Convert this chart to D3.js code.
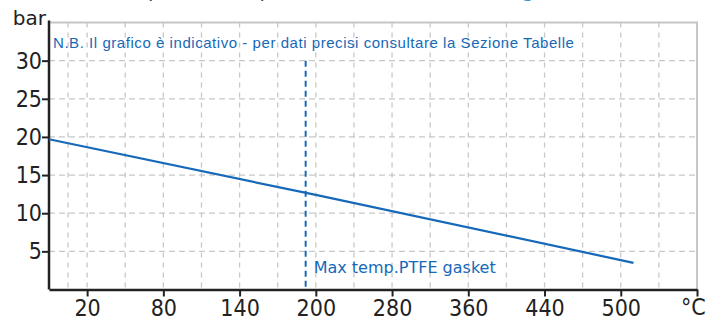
<!DOCTYPE html>
<html>
<head>
<meta charset="utf-8">
<script src="https://cdn.jsdelivr.net/npm/d3@7"></script>
<style>
  body { margin: 0; background: #fff; }
  svg { display: block; }
</style>
</head>
<body>
<svg id="chart" width="707" height="318"></svg>
<script>
// x axis labels (°C) - spacing on the original is even, not linear in temperature
var temp_ticks = [20, 80, 140, 200, 280, 360, 440, 500];
var temp_min = -10, temp_max = 560;
var pressure_ticks = [5, 10, 15, 20, 25, 30];
var pressure_max = 35;

// rating line (temperature °C, pressure bar)
var line_temp = [-10, 200, 510];
var line_bar = [19.7, 12.4, 3.5];

// max temperature of the PTFE gasket
var ptfe_temp = [192];
var ptfe_label = "Max temp.PTFE gasket";
var note_text = "N.B. Il grafico è indicativo - per dati precisi consultare la Sezione Tabelle";

var left = 49, right = 697, top_y = 22.5, bottom = 289.5;
var blue = "#1669b8";
var tick_font = "DejaVu Sans Condensed, DejaVu Sans";

var svg = d3.select("#chart");

// piecewise scale: each label sits on every second grid line
var knots = [temp_min].concat(temp_ticks, [temp_max]);
var slots = [0].concat(temp_ticks.map((d, i) => 1 + i * 2), [temp_ticks.length * 2 + 1]);
var slot_w = (right - left) / slots[slots.length - 1];
var x = d3.scaleLinear().domain(knots).range(slots.map(s => left + s * slot_w));
var y = d3.scaleLinear().domain([0, pressure_max]).range([bottom, top_y]);

// cut text from the page above
svg.append("text")
    .attr("x", 455).attr("y", -3)
    .attr("text-anchor", "end")
    .attr("font-family", "DejaVu Sans")
    .attr("font-size", "20px")
    .attr("fill", "#444")
    .text("ssione, temperatura e pressione nominale");
svg.append("text")
    .attr("x", 470).attr("y", -3)
    .attr("font-family", "DejaVu Sans")
    .attr("font-size", "20px")
    .attr("fill", "#3d8fd6")
    .text("Rating");

// grid lines
var grid_x = [];
d3.pairs(knots).forEach(p => {
    if (p[0] !== temp_min) grid_x.push(p[0]);
    grid_x.push((p[0] + p[1]) / 2);
});
svg.append("g").selectAll("line.vgrid")
    .data(grid_x)
    .enter()
    .append("line")
    .attr("class", "vgrid")
    .attr("x1", d => x(d)).attr("x2", d => x(d))
    .attr("y1", top_y).attr("y2", bottom)
    .style("stroke", "#c8c8c8")
    .style("stroke-width", 1.3)
    .style("stroke-dasharray", "5,5");

svg.append("g").selectAll("line.hgrid")
    .data(pressure_ticks)
    .enter()
    .append("line")
    .attr("class", "hgrid")
    .attr("x1", left).attr("x2", right)
    .attr("y1", d => y(d)).attr("y2", d => y(d))
    .style("stroke", "#c8c8c8")
    .style("stroke-width", 1.3)
    .style("stroke-dasharray", "6,4");

// top and right frame
svg.append("path")
    .attr("d", "M" + left + "," + top_y + "H" + right + "V" + bottom)
    .style("fill", "none")
    .style("stroke", "#c4c6c8")
    .style("stroke-width", 2);

// axes
var xAxis = d3.axisBottom(x)
    .tickValues(temp_ticks.concat([temp_max]))
    .tickSize(7)
    .tickSizeOuter(0)
    .tickFormat(d => d === temp_max ? "" : d);
var gx = svg.append("g")
    .attr("transform", "translate(0," + bottom + ")")
    .call(xAxis);
gx.select(".domain").style("stroke", "#222").style("stroke-width", 2.5);
gx.selectAll(".tick line").style("stroke", "#222").style("stroke-width", 2);
gx.selectAll(".tick text")
    .attr("y", 26)
    .attr("dy", "0")
    .attr("font-family", tick_font)
    .attr("font-size", "23px")
    .attr("fill", "#222");

var yAxis = d3.axisLeft(y)
    .tickValues(pressure_ticks)
    .tickSize(7)
    .tickSizeOuter(0);
var gy = svg.append("g")
    .attr("transform", "translate(" + left + ",0)")
    .call(yAxis);
gy.select(".domain").attr("d", "M0," + (top_y - 2) + "V" + bottom)
    .style("stroke", "#222").style("stroke-width", 2.5);
gy.selectAll(".tick line").style("stroke", "#222").style("stroke-width", 2);
gy.selectAll(".tick text")
    .attr("x", -7)
    .attr("font-family", tick_font)
    .attr("font-size", "23px")
    .attr("fill", "#222");

// units
svg.append("text")
    .attr("x", 46).attr("y", 25)
    .attr("text-anchor", "end")
    .attr("font-family", "DejaVu Sans")
    .attr("font-size", "20px")
    .attr("fill", "#222")
    .text("bar");
svg.append("text")
    .attr("x", 681).attr("y", 315)
    .attr("font-family", tick_font)
    .attr("font-size", "23px")
    .attr("fill", "#222")
    .text("°C");

// PTFE limit
svg.selectAll("line.ptfe")
    .data(ptfe_temp)
    .enter()
    .append("line")
    .attr("class", "ptfe")
    .attr("x1", d => x(d)).attr("x2", d => x(d))
    .attr("y1", y(30)).attr("y2", bottom)
    .style("stroke", blue)
    .style("stroke-width", 2)
    .style("stroke-dasharray", "6,4");
svg.selectAll("text.ptfe")
    .data(ptfe_temp)
    .enter()
    .append("text")
    .attr("class", "ptfe")
    .attr("x", d => x(d) + 8)
    .attr("y", 273)
    .attr("font-family", "DejaVu Sans")
    .attr("font-size", "16px")
    .attr("fill", blue)
    .text(ptfe_label);

// note
svg.append("text")
    .attr("x", 53).attr("y", 48)
    .attr("font-family", "Liberation Sans, Arial")
    .attr("font-size", "15px")
    .attr("letter-spacing", "0.55px")
    .attr("fill", blue)
    .text(note_text);

// rating line
var pts = line_temp.map((t, i) => [t, line_bar[i]]);
svg.append("path")
    .datum(pts)
    .attr("d", d3.line().x(d => x(d[0])).y(d => y(d[1])))
    .style("fill", "none")
    .style("stroke", blue)
    .style("stroke-width", 2.2);
</script>
</body>
</html>
